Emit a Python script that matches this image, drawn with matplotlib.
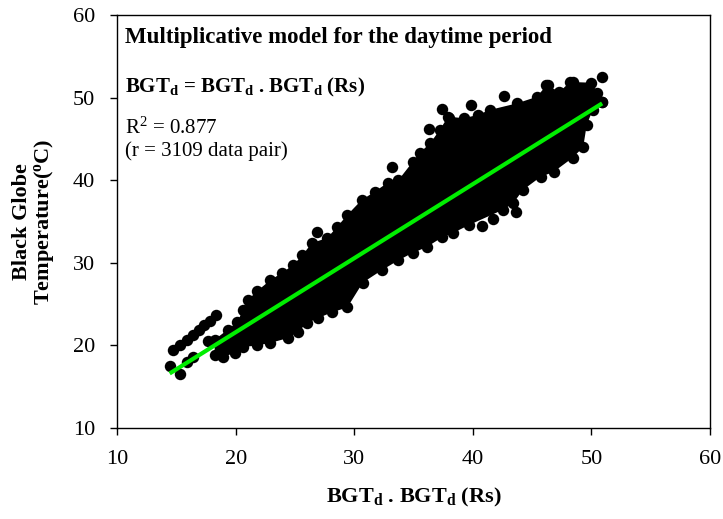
import matplotlib.pyplot as plt

plt.rcParams['font.family'] = ['Liberation Serif', 'DejaVu Serif']
plt.rcParams['mathtext.fontset'] = 'custom'
plt.rcParams['mathtext.rm'] = 'Liberation Serif'
plt.rcParams['mathtext.bf'] = 'Liberation Serif:bold'
plt.rcParams['mathtext.it'] = 'Liberation Serif:italic'

# upper edge of the dense point cloud (marker centres)
upper_x = [18.2, 19.3, 20.1, 20.6, 21.0, 21.8, 22.9, 23.9, 24.8, 25.6, 26.4, 27.7,
           28.5, 29.4, 30.6, 31.7, 32.8, 33.7, 35.5, 36.4, 37.2, 37.9, 39.2, 40.4,
           41.4, 43.7, 45.4, 46.2, 47.3, 48.2, 50.0, 50.5, 50.9]
upper_y = [20.7, 21.9, 22.8, 24.3, 25.5, 26.6, 27.9, 28.8, 29.7, 30.9, 32.4, 33.0,
           34.3, 35.8, 37.6, 38.6, 39.7, 40.0, 43.3, 44.5, 46.1, 47.7, 47.5, 47.9,
           48.5, 49.3, 50.1, 51.5, 50.7, 51.9, 51.8, 50.6, 49.5]

# lower edge of the dense point cloud
lower_x = [18.2, 18.9, 19.9, 20.6, 21.8, 22.9, 24.4, 25.2, 26.0, 26.9, 28.1, 29.4,
           30.7, 32.3, 33.7, 34.9, 36.1, 37.4, 38.3, 39.7, 42.5, 43.4, 44.2, 45.7,
           46.8, 48.4, 49.3, 49.6, 50.1, 50.9]
lower_y = [18.8, 18.6, 19.1, 19.8, 20.0, 20.3, 20.9, 21.6, 22.7, 23.3, 24.0, 24.6,
           27.6, 29.1, 30.3, 31.2, 31.9, 33.1, 33.6, 34.6, 36.4, 37.2, 38.8, 40.4,
           41.0, 42.7, 44.0, 46.7, 48.5, 49.5]

# separate points away from the main cloud
outlier_x = [14.7, 15.3, 15.9, 16.4, 16.9, 17.3, 17.8, 18.3,
             14.4, 15.3, 15.9, 16.4, 17.6,
             26.8, 30.6, 33.2, 34.9, 36.3, 37.4, 38.0, 39.8, 42.6, 46.3,
             48.4, 50.9, 40.8, 41.7, 43.6]
outlier_y = [19.4, 20.0, 20.7, 21.3, 21.9, 22.5, 23.0, 23.7,
             17.5, 16.5, 18.0, 18.6, 20.5,
             33.7, 36.4, 41.6, 42.2, 46.2, 48.6, 47.5, 49.1, 50.2, 51.5,
             51.9, 52.5, 34.5, 35.3, 36.2]

# regression line end points
fit_x = [14.4, 50.9]
fit_y = [16.6, 49.3]

fig = plt.figure(figsize=(7.23, 5.19), dpi=100)
ax = fig.add_axes([0.1625, 0.1753, 0.8195, 0.7958])

cloud_x = upper_x + lower_x[::-1]
cloud_y = upper_y + lower_y[::-1]
ax.fill(cloud_x, cloud_y, color='black', lw=0)
ax.scatter(upper_x + lower_x + outlier_x, upper_y + lower_y + outlier_y,
           s=68, color='black', lw=0, zorder=2)
ax.plot(fit_x, fit_y, color='#00ee00', lw=3, zorder=3, solid_capstyle='butt')

ax.set_xlim(10, 60)
ax.set_ylim(10, 60)
ax.set_xticks(range(10, 61, 10))
ax.set_yticks(range(10, 61, 10))
ax.tick_params(direction='out', length=5, width=1, labelsize=16, pad=11)
for sp in ax.spines.values():
    sp.set_linewidth(1)

ax.set_xlabel(r'$\mathbf{BGT_d}$ . $\mathbf{BGT_d}$ (Rs)', fontsize=16,
              fontweight='bold', labelpad=12)
ax.set_ylabel('Black Globe\n' + r'Temperature($\mathbf{^{o}}$C)', fontsize=16,
              fontweight='bold', labelpad=12, linespacing=1.0)

ax.text(0.013, 0.945, 'Multiplicative model for the daytime period',
        transform=ax.transAxes, fontsize=16.5, fontweight='bold', va='center')
ax.text(0.013, 0.825, r'$\mathbf{BGT_d}$ = $\mathbf{BGT_d}$ . $\mathbf{BGT_d}$ (Rs)',
        transform=ax.transAxes, fontsize=15, fontweight='bold', va='center')
ax.text(0.013, 0.727, r'R$^{2}$ = 0.877', transform=ax.transAxes,
        fontsize=15, va='center')
ax.text(0.013, 0.67, '(r = 3109 data pair)', transform=ax.transAxes,
        fontsize=15, va='center')

fig.savefig('out.png', dpi=100)
